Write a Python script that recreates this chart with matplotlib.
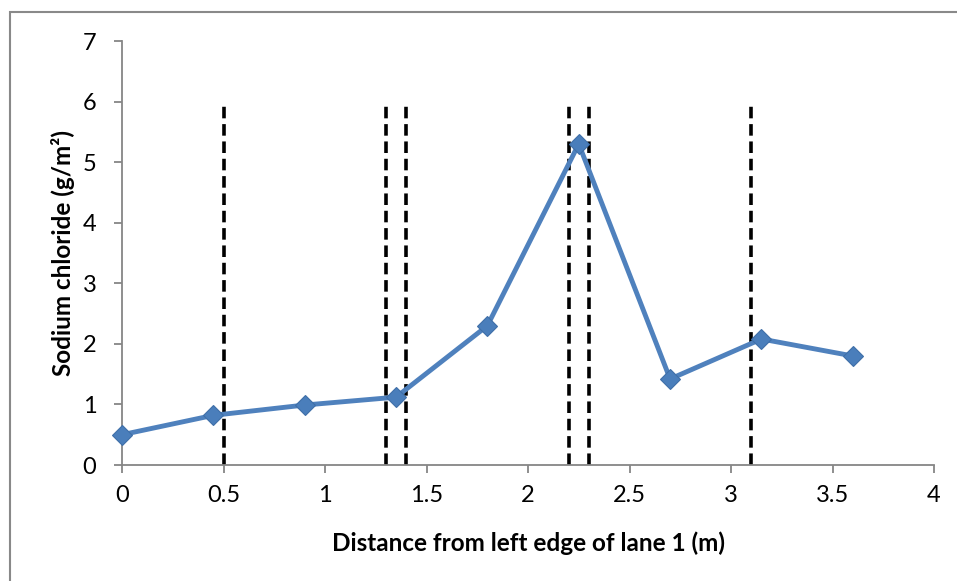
import matplotlib
matplotlib.use("Agg")
from matplotlib import pyplot as plt
from matplotlib.patches import Rectangle

plt.rcParams['font.family'] = ['Lato', 'DejaVu Sans']

# sodium chloride measured across the lane
distance = [0, 0.45, 0.9, 1.35, 1.8, 2.25, 2.7, 3.15, 3.6]
salt = [0.5, 0.82, 0.99, 1.12, 2.3, 5.3, 1.42, 2.08, 1.8]

# wheel path boundaries
boundaries = [0.5, 1.3, 1.4, 2.2, 2.3, 3.1]
boundary_top = 6

xticks = [0, 0.5, 1, 1.5, 2, 2.5, 3, 3.5, 4]
xtick_labels = ['0', '0.5', '1', '1.5', '2', '2.5', '3', '3.5', '4']
yticks = [0, 1, 2, 3, 4, 5, 6, 7]

W, H = 957, 581
fig = plt.figure(figsize=(W / 100, H / 100), dpi=100)
ax = fig.add_axes([122 / W, (H - 465) / H, (934 - 122) / W, (465 - 41) / H])

# chart border
fig.patches.append(Rectangle((10 / W, -0.05), 1.1, (H - 12) / H + 0.05,
                             transform=fig.transFigure, fill=False,
                             edgecolor='#898989', linewidth=1.5))

for x in boundaries:
    ax.plot([x, x], [0, boundary_top], color='black', linewidth=2.6,
            linestyle=(0, (3.2, 1.6)), zorder=2)

ax.plot(distance, salt, color='#4F81BD', linewidth=3.5, marker='D',
        markersize=10, markerfacecolor='#4A7EBB', markeredgecolor='#3F6FA8',
        markeredgewidth=0.8, zorder=3, clip_on=False)

ax.set_xlim(0, 4)
ax.set_ylim(0, 7)
ax.set_xticks(xticks)
ax.set_xticklabels(xtick_labels)
ax.set_yticks(yticks)

for side in ['top', 'right']:
    ax.spines[side].set_visible(False)
for side in ['left', 'bottom']:
    ax.spines[side].set_color('#868686')
    ax.spines[side].set_linewidth(1.3)

ax.tick_params(axis='both', direction='out', length=5.5, width=1.3,
               color='#868686', labelsize=17, labelcolor='black')
ax.tick_params(axis='x', pad=9)
ax.tick_params(axis='y', pad=13)

ax.set_xlabel('Distance from left edge of lane 1 (m)', fontsize=17.5,
              fontweight='bold', labelpad=18)
ax.set_ylabel('Sodium chloride (g/m²)', fontsize=17.5, fontweight='bold',
              labelpad=5)

fig.savefig('out.png', dpi=100)
